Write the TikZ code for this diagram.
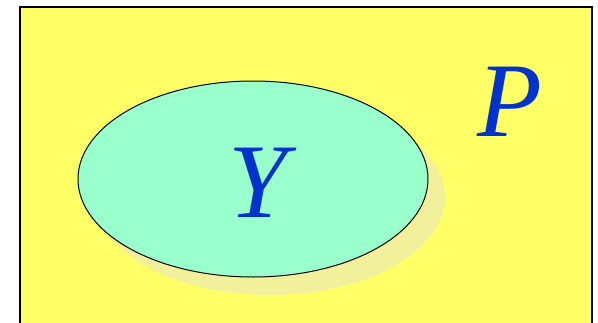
\documentclass[tikz,border=0pt]{standalone}
\usepackage{fontspec}
\setmainfont{Liberation Serif}
\usepackage{tikz}
\usetikzlibrary{shapes.geometric}

\definecolor{setyellow}{HTML}{FFFF66}
\definecolor{setmint}{HTML}{99FFCC}
\definecolor{setshadow}{HTML}{F3F09C}
\definecolor{setblue}{HTML}{0033CC}

\begin{document}
\begin{tikzpicture}[
  x=1pt, y=-1pt,
  blob/.style={ellipse, minimum width=350pt, minimum height=196pt, inner sep=0pt},
  letter/.style={text=setblue, font=\fontsize{106}{106}\selectfont\itshape, inner sep=0pt}
]
\useasboundingbox (0,0) rectangle (598,322);
\fill[white] (0,0) rectangle (598,322);
\node[draw=black, line width=2pt, fill=setyellow, minimum width=572pt, minimum height=340pt,
  inner sep=0pt, anchor=north west] (universe) at (19,6) {};
\node[blob, fill=setshadow] (shadow) at (270,197) {};
\node[blob, draw=black, line width=1pt, fill=setmint] (ysetbox) at (253,179) {};
\node[letter] (ylabel) at (258,183) {Y};
\node[letter] (plabel) at (510,102) {P};
\end{tikzpicture}
\end{document}
